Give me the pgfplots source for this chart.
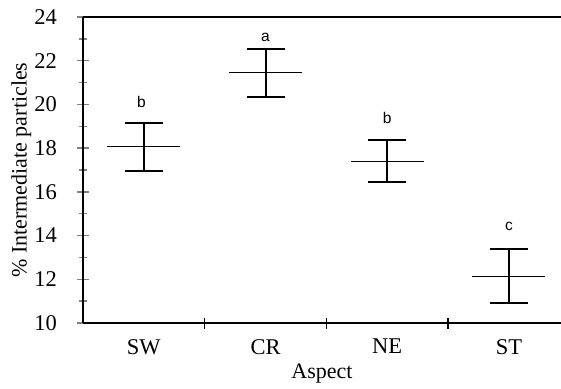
\documentclass[border=0pt]{standalone}
\usepackage{fontspec}
\setmainfont{Liberation Serif}
\newfontfamily\lettersfont{Liberation Sans}
\usepackage{pgfplots}
\pgfplotsset{compat=1.18}
\begin{document}
\begin{tikzpicture}
\begin{axis}[name=ax, scale only axis, width=478pt, height=306pt,
  xmin=-0.5, xmax=3.428, ymin=10, ymax=24,
  axis x line*=bottom, axis y line*=left,
  axis line style={-, line width=1.8pt},
  /pgf/number format/assume math mode=true,
  tick label style={font=\fontsize{22.5}{26}\selectfont},
  label style={font=\fontsize{22}{26}\selectfont},
  ytick={10,12,...,24}, minor y tick num=1,
  tick align=center, major tick length=12pt, minor tick length=7pt,
  ytick style={line width=1.3pt},
  yticklabel style={anchor=east, inner sep=0pt, xshift=-20pt},
  xtick={0,1,2,3}, xticklabels={SW,CR,NE,ST},
  xtick style={draw=none},
  xticklabel style={anchor=north, inner sep=0pt, yshift=-10pt},
  extra x ticks={0.5,1.5,2.5}, extra x tick labels={},
  extra x tick style={xtick style={draw=black, line width=1.5pt}, major tick length=11pt},
  xlabel={Aspect}, ylabel={\% Intermediate particles},
  xlabel style={at={(axis description cs:0.5,-0.18)}, anchor=base},
  ylabel style={at={(axis description cs:-0.101,0.5)}, anchor=south, rotate=0},
  clip=false,
]
\draw[line width=1.4pt] (rel axis cs:0,1) -- (rel axis cs:1,1);
% means with error bars (vertical parts)
\addplot[only marks, mark=-, mark size=36.5pt, mark options={line width=1.3pt},
  error bars/.cd, y dir=both, y explicit, error mark=none,
  error bar style={line width=2pt}]
  coordinates {
  (0,18.07) += (0,1.07) -= (0,1.10)
  (1,21.45) += (0,1.07) -= (0,1.11)
  (2,17.38) += (0,0.99) -= (0,0.94)
  (3,12.14) += (0,1.26) -= (0,1.21)
  };
% caps
\addplot[only marks, mark=-, mark size=19pt, mark options={line width=1.8pt}]
  coordinates {
  (0,19.14) (0,16.97)
  (1,22.52) (1,20.34)
  (2,18.37) (2,16.44)
  (3,13.40) (3,10.93)
  };
\node[anchor=base, font=\lettersfont\fontsize{15.5}{18}\selectfont, inner sep=0pt] at (axis cs:-0.02,19.84) {b};
\node[anchor=base, font=\lettersfont\fontsize{15.5}{18}\selectfont, inner sep=0pt] at (axis cs:1,22.87) {a};
\node[anchor=base, font=\lettersfont\fontsize{15.5}{18}\selectfont, inner sep=0pt] at (axis cs:2,19.14) {b};
\node[anchor=base, font=\lettersfont\fontsize{15.5}{18}\selectfont, inner sep=0pt] at (axis cs:3,14.25) {c};
\end{axis}
\pgfresetboundingbox
\path ([xshift=-83pt,yshift=17pt]ax.north west) rectangle ([yshift=-65pt]ax.south east);
\end{tikzpicture}
\end{document}
